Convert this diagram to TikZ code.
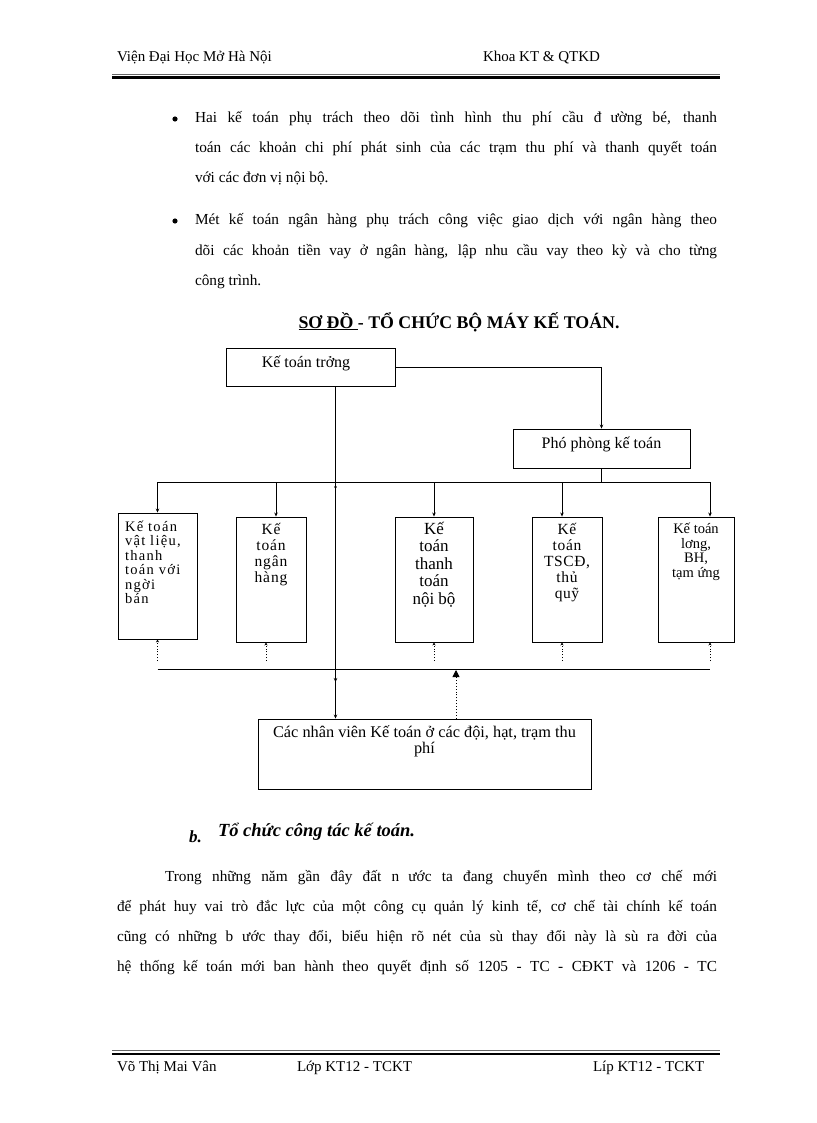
\documentclass[tikz,border=0pt]{standalone}
\usepackage{fontspec}
\setmainfont{Liberation Serif}
\usetikzlibrary{arrows.meta}
\tikzset{
  box/.style={draw, line width=0.9pt, inner sep=0pt},
  txt/.style={inner sep=0pt, outer sep=0pt},
  ln/.style={line width=0.9pt},
  arr/.style={line width=0.9pt, -{Stealth[length=4pt,width=3.5pt]}},
  darr/.style={line width=0.9pt, dotted, -{Stealth[length=3pt,width=3pt]}},
  dln/.style={line width=0.9pt, dotted},
  body/.style={txt, anchor=base west, font=\fontsize{15.3}{18}\selectfont},
  hdr/.style={txt, anchor=base west, font=\fontsize{15}{17}\selectfont},
}
\newcommand{\jline}[2]{\makebox[#1][s]{#2}}
\begin{document}
\begin{tikzpicture}[x=1pt,y=-1pt]
\useasboundingbox (0,0) rectangle (816,1123);
\fill[white] (0,0) rectangle (816,1123);

% header
\node[hdr] (h1) at (117,62) {Viện Đại Học Mở Hà Nội};
\node[hdr] (h2) at (483,62) {Khoa KT \& QTKD};
\coordinate (hl1) at (112,74); \coordinate (hr1) at (720,74);
\coordinate (hl2) at (112,77.5); \coordinate (hr2) at (720,77.5);
\draw[line width=0.8pt, black!60] (hl1) -- (hr1);
\draw[line width=2.6pt] (hl2) -- (hr2);

% bullets
\fill (175,119) circle (2.6);
\fill (175,221) circle (2.6);
\node[body] (t1) at (195,123) {\jline{522pt}{Hai kế toán phụ trách theo dõi tình hình thu phí cầu đ\hspace{9pt}ường bé, thanh}};
\node[body] (t2) at (195,153) {\jline{522pt}{toán các khoản chi phí phát sinh của các trạm thu phí và thanh quyết toán}};
\node[body] (t3) at (195,183) {với các đơn vị nội bộ.};
\node[body] (t4) at (195,225) {\jline{522pt}{Mét kế toán ngân hàng phụ trách công việc giao dịch với ngân hàng theo}};
\node[body] (t5) at (195,255) {\jline{522pt}{dõi các khoản tiền vay ở ngân hàng, lập nhu cầu vay theo kỳ và cho từng}};
\node[body] (t6) at (195,285) {công trình.};

% title
\node[txt, anchor=base, font=\fontsize{17.8}{20}\selectfont\bfseries] (title) at (459,328) {\underline{SƠ ĐỒ }- TỔ CHỨC BỘ MÁY KẾ TOÁN.};

% diagram boxes
\node[box, minimum width=169pt, minimum height=38pt] (ktt) at (310.5,367) {};
\node[txt, font=\fontsize{16}{17}\selectfont] (kttt) at (306,363) {Kế toán trởng};
\node[box, minimum width=177pt, minimum height=39pt] (pho) at (601.5,448.5) {};
\node[txt, font=\fontsize{16}{17}\selectfont] (phot) at (601.5,444) {Phó phòng kế toán};

\node[box, minimum width=79pt, minimum height=126pt] (b1) at (157.5,576) {};
\node[box, minimum width=70pt, minimum height=125pt] (b2) at (271,579.5) {};
\node[box, minimum width=78pt, minimum height=125pt] (b3) at (434,579.5) {};
\node[box, minimum width=70pt, minimum height=125pt] (b4) at (567,579.5) {};
\node[box, minimum width=76pt, minimum height=125pt] (b5) at (696,579.5) {};
\node[box, minimum width=333pt, minimum height=70pt] (bot) at (424.5,754) {};

\node[txt, anchor=north west, align=left, font=\fontsize{14.5}{14.4}\selectfont\addfontfeature{LetterSpace=9}] (b1t) at (125,521) {Kế toán\\vật liệu,\\thanh\\toán với\\ngời\\bán};
\node[txt, anchor=north, align=center, font=\fontsize{15.5}{16}\selectfont\addfontfeature{LetterSpace=6}] (b2t) at (271,523) {Kế\\toán\\ngân\\hàng};
\node[txt, anchor=north, align=center, font=\fontsize{17}{17.5}\selectfont] (b3t) at (434,522) {Kế\\toán\\thanh\\toán\\nội bộ};
\node[txt, anchor=north, align=center, font=\fontsize{15.5}{16}\selectfont\addfontfeature{LetterSpace=4}] (b4t) at (567,523) {Kế\\toán\\TSCĐ,\\thủ\\quỹ};
\node[txt, anchor=north, align=center, font=\fontsize{14.5}{14.5}\selectfont] (b5t) at (696,523) {Kế toán\\lơng,\\BH,\\tạm ứng};
\node[txt, anchor=north, align=center, font=\fontsize{16.3}{15.5}\selectfont] (bott) at (424.5,726) {Các nhân viên Kế toán ở các đội, hạt, trạm thu\\phí};

% connectors
\draw[arr] (ktt.east) -| (pho.north);
\coordinate (busL) at (157.5,482);
\coordinate (busR) at (710,482);
\draw[ln] (busL) -- (busR);
\draw[ln] (pho.south) -- (pho.south |- busL);
\draw[arr] (busL) -- (b1.north);
\draw[arr] ([xshift=5pt]b2.north |- busL) -- ([xshift=5pt]b2.north);
\draw[arr] (b3.north |- busL) -- (b3.north);
\draw[arr] ([xshift=-5pt]b4.north |- busL) -- ([xshift=-5pt]b4.north);
\draw[arr] (busR) -- ([xshift=14pt]b5.north);

% lower bus and dotted feedback
\coordinate (lbL) at (157.5,669);
\coordinate (lbR) at (710,669);
\draw[ln] (lbL) -- (lbR);
\draw[darr] ([yshift=8pt]lbL) -- (b1.south);
\draw[darr] ([xshift=-5pt,yshift=8pt]b2.south |- lbL) -- ([xshift=-5pt]b2.south);
\draw[darr] ([yshift=8pt]b3.south |- lbL) -- (b3.south);
\draw[darr] ([xshift=-5pt,yshift=8pt]b4.south |- lbL) -- ([xshift=-5pt]b4.south);
\draw[darr] ([yshift=8pt]lbR) -- ([xshift=14pt]b5.south);

% chief accountant vertical line to bottom box
\draw[arr] ([xshift=25pt]ktt.south) -- ([xshift=25pt]ktt.south |- bot.north);
\draw[ln, -{Stealth[length=4pt,width=3.5pt]}] ([xshift=25pt]ktt.south |- 0,672) -- ([xshift=25pt]ktt.south |- 0,682);
\fill ([xshift=25pt]ktt.south |- busL) ++(0,5) circle (1.3);
% bottom box up to lower bus
\draw[dln, -{Triangle[length=7pt,width=7pt]}] ([xshift=31.5pt]bot.north) -- ([xshift=31.5pt]bot.north |- 0,670);

% section b
\node[txt, anchor=base west, font=\fontsize{17}{18}\selectfont\bfseries\itshape] (sb) at (189,842) {b.};
\node[txt, anchor=base west, font=\fontsize{18.5}{20}\selectfont\bfseries\itshape] (sbt) at (218,836) {Tổ chức công tác kế toán.};

\node[body] (p1) at (165,881) {\jline{552pt}{Trong những năm gần đây đất n\hspace{9pt}ước ta đang chuyển mình theo cơ chế mới}};
\node[body] (p2) at (117,911) {\jline{600pt}{để phát huy vai trò đắc lực của một công cụ quản lý kinh tế, cơ chế tài chính kế toán}};
\node[body] (p3) at (117,941) {\jline{600pt}{cũng có những b\hspace{9pt}ước thay đổi, biểu hiện rõ nét của sù thay đổi này là sù ra đời của}};
\node[body] (p4) at (117,971) {\jline{600pt}{hệ thống kế toán mới ban hành theo quyết định số 1205 - TC - CĐKT và 1206 - TC}};

% footer
\coordinate (fl1) at (112,1050); \coordinate (fr1) at (720,1050);
\coordinate (fl2) at (112,1054); \coordinate (fr2) at (720,1054);
\draw[line width=0.8pt, black!60] (fl1) -- (fr1);
\draw[line width=2.6pt] (fl2) -- (fr2);
\node[hdr] (f1) at (117,1071) {Võ Thị Mai Vân};
\node[hdr] (f2) at (297,1071) {Lớp KT12 - TCKT};
\node[hdr] (f3) at (593,1071) {Líp KT12 - TCKT};
\end{tikzpicture}
\end{document}
